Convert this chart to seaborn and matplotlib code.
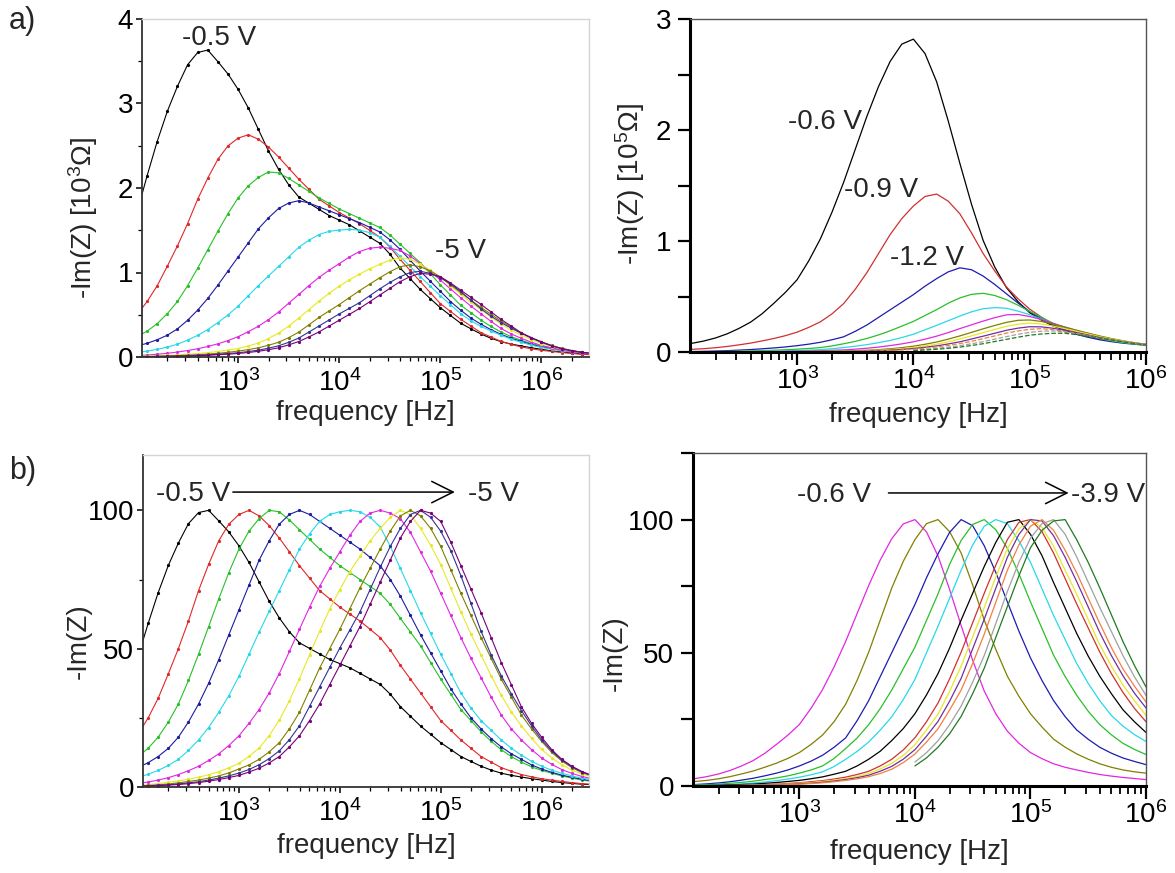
import numpy as np
import seaborn as sns
import matplotlib.pyplot as plt
from matplotlib.ticker import LogLocator, MultipleLocator, NullFormatter

sns.set_theme(style='ticks')
plt.rcParams['font.family'] = ['Liberation Sans', 'DejaVu Sans']
plt.rcParams['mathtext.fontset'] = 'custom'
plt.rcParams['mathtext.rm'] = 'Liberation Sans'
plt.rcParams['mathtext.it'] = 'Liberation Sans:italic'
plt.rcParams['axes.unicode_minus'] = False

nan = np.nan

# frequency grid the curves were read at: 10 points per decade, 10^2 ... 10^6.6 Hz
freq_left = [100, 126, 158, 200, 251, 316, 398, 501, 631, 794,
             1000, 1259, 1585, 1995, 2512, 3162, 3981, 5012, 6310, 7943,
             1e4, 1.259e4, 1.585e4, 1.995e4, 2.512e4, 3.162e4, 3.981e4, 5.012e4, 6.31e4, 7.943e4,
             1e5, 1.259e5, 1.585e5, 1.995e5, 2.512e5, 3.162e5, 3.981e5, 5.012e5, 6.31e5, 7.943e5,
             1e6, 1.259e6, 1.585e6, 1.995e6, 2.512e6, 3.162e6, 3.981e6]
freq_right = freq_left[:41]

# ---- left column : -0.5 V ... -5 V, -Im(Z) normalised to its maximum (%) ----
left_volts = ['-0.5', '-1.0', '-1.5', '-2.0', '-2.5', '-3.0', '-3.5', '-4.0', '-4.5', '-5.0']
left_peaks = [3.64, 2.63, 2.19, 1.85, 1.51, 1.30, 1.18, 1.09, 1.02, 0.99]  # 10^3 Ohm
left_colors = ['#000000', '#e02828', '#28c028', '#1c1ca0', '#28d8e8',
               '#e028e0', '#e8e828', '#808000', '#343494', '#780078']

nl_05 = [47, 59, 70, 80, 88, 95, 99, 99.8, 96, 92, 87, 81, 74, 67, 61, 56, 52, 50, 48, 46,
         44.5, 43, 41, 39, 37, 33.5, 29, 25.5, 22, 19, 16, 13.5, 11, 9.2, 7.5, 6.1, 5, 4.2, 3.6, 3,
         2.5, 2, 1.6, 1.3, 1.0, 0.85, 0.7]
nl_10 = [19, 25, 32, 41, 50, 60, 71, 80.5, 89, 95, 98.5, 100, 98, 94.5, 90, 85, 80, 75.5, 71, 68,
         65, 62.5, 60, 57, 54, 49.5, 44, 39, 34, 29, 24, 20.5, 17, 14, 11, 9, 7, 5.7, 4.5, 3.7,
         3, 2.5, 2, 1.6, 1.2, 1.0, 0.8]
nl_15 = [11, 14, 18, 23.5, 30, 38.5, 48, 58, 68, 77.5, 86, 92.5, 97, 100, 99.5, 96.5, 93, 89.5, 86, 83,
         80, 77.5, 75, 72.5, 70, 66, 61, 56, 51, 45, 39, 33.5, 28, 24, 20, 16.5, 13.5, 11, 9, 7.3,
         6, 5, 4, 3.2, 2.5, 2, 1.6]
nl_20 = [7, 8.8, 11, 14, 18, 23.5, 30, 37.5, 46, 55, 64, 73, 82, 89, 95, 98.5, 100, 98.5, 96, 93.5,
         91, 88.5, 86, 83, 80, 75, 69, 62, 55, 48.5, 42, 35.5, 30, 25, 21, 17.5, 14.5, 12, 10, 8,
         6.5, 5.3, 4.3, 3.5, 2.8, 2.2, 1.8]
nl_25 = [3.5, 4.6, 6, 7.8, 10, 13.2, 17, 21.5, 27, 33, 40, 48, 56, 63.5, 71, 78.5, 86, 91.5, 96, 98.5,
         99.5, 100, 99.5, 97.5, 94, 87, 79, 71, 63, 55.5, 48, 41, 34, 28.5, 24, 20.5, 17, 14, 11.5, 9.3,
         7.5, 6.1, 5, 4, 3.2, 2.6, 2.1]
nl_30 = [1.3, 1.8, 2.5, 3.4, 4.5, 5.9, 7.5, 9.6, 12, 15, 18.5, 23, 28, 34, 41, 49, 57, 65, 72.5, 79,
         85, 91, 96, 99, 100, 99, 97, 92, 85, 78, 70, 62, 54, 46.5, 39.5, 32.5, 26, 21, 17, 13.5,
         10.5, 8.2, 6.3, 4.9, 3.8, 3, 2.4]
nl_35 = [0.6, 0.85, 1.2, 1.7, 2.2, 2.8, 3.5, 4.4, 5.5, 6.9, 8.5, 11, 14, 18.5, 24, 31, 39, 47.5, 56, 64,
         71, 77.5, 83, 88.5, 93, 97, 99.5, 98, 93, 87, 80, 71.5, 63, 55, 47.5, 40, 33, 27, 22, 17.5,
         13.5, 10.5, 8, 6.1, 4.7, 3.6, 2.8]
nl_40 = [0.4, 0.55, 0.8, 1.1, 1.5, 2, 2.5, 3.2, 4, 5.1, 6.5, 8, 10, 12.7, 16, 21, 27, 35, 43, 50,
         57, 64.5, 72, 79, 86, 92.5, 98, 100, 98, 93.5, 87, 78.5, 70, 62, 54, 46.5, 39, 32.5, 26, 21,
         16.5, 12.5, 9.4, 7, 5.2, 4, 3]
nl_45 = [0.3, 0.42, 0.6, 0.8, 1.1, 1.5, 1.9, 2.5, 3.2, 4, 5, 6.3, 8, 10.2, 13, 17, 22, 29, 36, 43,
         50, 56.5, 63, 71, 79, 86.5, 93, 98, 99.5, 97, 92, 85, 76, 66, 56, 47.5, 40, 33.5, 27.5, 22,
         17, 13, 9.7, 7.3, 5.4, 4.1, 3.1]
nl_50 = [0.25, 0.35, 0.5, 0.68, 0.9, 1.2, 1.6, 2.1, 2.7, 3.4, 4.2, 5.4, 6.8, 8.7, 11, 14.5, 18.5, 24, 30, 37,
         44, 51, 58, 66, 74, 82, 90, 96, 100, 99, 96, 88.5, 80, 71.5, 63, 54, 45, 37, 29, 23,
         18, 13.5, 10, 7.5, 5.6, 4.2, 3.2]
norm_left = [nl_05, nl_10, nl_15, nl_20, nl_25, nl_30, nl_35, nl_40, nl_45, nl_50]

# ---- right column : -0.6 V ... -3.9 V ----
right_volts = ['-0.6', '-0.9', '-1.2', '-1.5', '-1.8', '-2.1', '-2.4', '-2.7', '-3.0', '-3.3', '-3.6', '-3.9']
right_peaks = [2.83, 1.43, 0.76, 0.53, 0.40, 0.34, 0.29, 0.26, 0.23, 0.21, 0.19, 0.17]  # 10^5 Ohm
top_right_colors = ['#000000', '#d03030', '#1c1cb0', '#28c028', '#28d8e8', '#e028e0',
                    '#808000', '#e8e828', '#7030a0', '#f08040', '#a0a0a0', '#207a20']
bottom_right_colors = ['#e028e0', '#808000', '#1c1cb0', '#28c028', '#28d8e8', '#000000',
                       '#d03030', '#e8e828', '#7030a0', '#f08040', '#a0a0a0', '#207a20']

nr_06 = [2.2, 2.8, 3.5, 4.5, 5.8, 7.5, 9.5, 12.2, 15.5, 19, 23, 29, 36, 44.5, 54, 64.5, 75, 84.5, 92.5, 98,
         99.6, 95, 86, 73.5, 60, 47, 35.5, 27, 20.5, 16, 12.5, 10.2, 8.3, 7, 6, 5.1, 4.3, 3.7, 3.2, 2.8, 2.4]
nr_09 = [1.3, 1.7, 2.1, 2.7, 3.5, 4.5, 5.6, 7, 8.5, 10.3, 12.5, 15.5, 19, 24, 30.5, 39.5, 50, 62, 74, 84,
         92, 98, 99.5, 95, 87, 75, 62, 51, 41, 33.5, 27, 22, 17.5, 14.5, 12, 10, 8.3, 7, 6, 5.3, 4.8]
nr_12 = [0.4, 0.55, 0.8, 1.15, 1.6, 2.2, 2.9, 3.8, 4.8, 6, 7.5, 9.3, 11.5, 14.5, 18, 24.5, 32, 41, 50, 59,
         68, 78, 87, 95, 99.8, 97.5, 90, 80, 69, 58, 48, 39.5, 32, 26, 21, 17.5, 14.5, 12.3, 10.5, 9.2, 8]
nr_15 = [0.25, 0.35, 0.5, 0.7, 1, 1.35, 1.8, 2.4, 3, 3.8, 4.8, 6, 7.5, 10.3, 14, 18, 23, 29, 36, 44,
         52, 62, 72, 83, 92, 98, 99.8, 96, 89, 79.5, 69, 59, 49, 41, 34, 28, 23, 19.2, 16, 13.7, 11.8]
nr_18 = [0.15, 0.22, 0.3, 0.42, 0.6, 0.8, 1.1, 1.5, 2, 2.6, 3.3, 4.2, 5.3, 7.3, 10, 13, 16.5, 21, 26, 32.5,
         40, 50, 60, 70.5, 81, 90.5, 97.5, 100, 98.5, 92, 84, 74, 64, 55, 46, 38.5, 32, 26.5, 22.5, 19.3, 16.7]
nr_21 = [0.1, 0.14, 0.2, 0.28, 0.4, 0.55, 0.7, 1, 1.3, 1.7, 2.1, 2.7, 3.4, 4.4, 5.5, 7.5, 10, 13, 17, 21.5,
         27, 34, 42, 51.5, 62, 72, 82, 91, 98.5, 99.5, 94, 86, 76, 66.5, 57, 48.5, 41, 34.5, 28.5, 24, 20]
nr_24 = [0.05, 0.07, 0.1, 0.14, 0.2, 0.28, 0.4, 0.55, 0.7, 0.95, 1.2, 1.6, 2, 2.6, 3.3, 4.3, 5.5, 7.5, 10, 13.5,
         18, 24, 31, 40, 50, 61, 72, 82.5, 92, 98.5, 99.5, 95, 87, 77.5, 68, 59, 50, 42, 35, 29, 24]
nr_27 = [0.04, 0.06, 0.08, 0.11, 0.15, 0.21, 0.3, 0.4, 0.55, 0.75, 1, 1.3, 1.7, 2.2, 2.8, 3.6, 4.7, 6.4, 8.5, 11.5,
         15.5, 21, 27, 35.5, 45, 56, 67, 78.5, 89, 96.5, 100, 97, 90, 81, 72, 62.5, 53, 45, 38, 32, 26.5]
nr_30 = [0.03, 0.045, 0.06, 0.09, 0.12, 0.18, 0.25, 0.34, 0.45, 0.6, 0.8, 1.05, 1.4, 1.85, 2.4, 3.1, 4, 5.5, 7.3, 10,
         13.5, 18.5, 24, 31.5, 40, 51, 62, 73.5, 85, 93.5, 99, 98.5, 93, 85, 76, 66.5, 57, 48.5, 41, 34.5, 29]
nr_33 = [0.03, 0.04, 0.05, 0.07, 0.1, 0.14, 0.2, 0.28, 0.4, 0.53, 0.7, 0.92, 1.2, 1.6, 2.1, 2.7, 3.5, 4.7, 6.3, 8.8,
         12, 16.5, 21.5, 28.5, 36, 46, 57, 69, 81, 90.5, 97.5, 100, 96, 88.5, 80, 70.5, 61, 52, 44, 37.5, 31.5]
nr_36 = [nan] * 20 + [9, 12.5, 17, 23, 30, 39, 49, 61, 73, 84,
                      93, 98.5, 100, 94.5, 86, 76.5, 67, 58, 49, 41, 34]
nr_39 = [nan] * 20 + [7.5, 10.5, 14.5, 19.5, 26, 34.5, 44, 55.5, 67, 78.5,
                      89, 95.5, 99, 99.5, 92, 83.5, 74, 64, 54, 45, 37]
norm_right = [nr_06, nr_09, nr_12, nr_15, nr_18, nr_21, nr_24, nr_27, nr_30, nr_33, nr_36, nr_39]
dashed_right = ['-3.3', '-3.6', '-3.9']

W, H = 1175, 873
fig = plt.figure(figsize=(W / 100, H / 100), dpi=100)


def px_axes(left, top, right, bottom):
    return fig.add_axes([left / W, 1 - bottom / H, (right - left) / W, (bottom - top) / H])


ax_tl = px_axes(142, 19, 589, 357)
ax_tr = px_axes(690, 19, 1146, 352)
ax_bl = px_axes(143, 455, 589, 787)
ax_br = px_axes(693, 453, 1146, 786)

FS = 20


def style_axes(ax, heavy):
    ax.set_xscale('log')
    ax.xaxis.set_major_locator(LogLocator(base=10, numticks=12))
    ax.xaxis.set_minor_locator(LogLocator(base=10, subs=np.arange(2, 10), numticks=12))
    ax.xaxis.set_minor_formatter(NullFormatter())
    ax.grid(False)
    if heavy:
        for s in ['left', 'bottom']:
            ax.spines[s].set_linewidth(2.2)
            ax.spines[s].set_color('black')
        for s in ['top', 'right']:
            ax.spines[s].set_linewidth(1.0)
            ax.spines[s].set_color('#555555')
        ax.tick_params(which='both', direction='out', labelsize=FS, colors='black')
        ax.tick_params(axis='x', which='major', length=9, width=1.6, pad=2)
        ax.tick_params(axis='x', which='minor', length=5.5, width=1.3)
        ax.tick_params(axis='y', which='both', length=8.5, width=1.6, pad=5)
    else:
        for s in ['left', 'bottom']:
            ax.spines[s].set_linewidth(1.3)
            ax.spines[s].set_color('#333333')
        for s in ['top', 'right']:
            ax.spines[s].set_linewidth(1.0)
            ax.spines[s].set_color('#d4d4d4')
        ax.tick_params(which='both', direction='out', labelsize=FS, colors='black')
        ax.tick_params(which='major', length=4.5, width=1.1)
        ax.tick_params(which='minor', length=3, width=0.9)
        ax.tick_params(axis='x', which='major', pad=4)
        ax.tick_params(axis='y', which='major', pad=2)


# ---- a) left: absolute values ----
for volts, peak, norm, c in zip(left_volts, left_peaks, norm_left, left_colors):
    vals = np.array(norm) * peak / 100
    sns.lineplot(x=freq_left, y=vals, ax=ax_tl, color=c, lw=0.8, marker='o',
                 markersize=2.3, markeredgewidth=0)
style_axes(ax_tl, heavy=False)
ax_tl.set_xlim(112, 2.95e6)
ax_tl.set_ylim(0, 4)
ax_tl.yaxis.set_major_locator(MultipleLocator(1))
ax_tl.yaxis.set_minor_locator(MultipleLocator(0.5))
ax_tl.set_xlabel('frequency [Hz]', fontsize=FS)
ax_tl.set_ylabel('-Im(Z) [10$^3$Ω]', fontsize=FS)
ax_tl.xaxis.set_label_coords(0.5, -0.127)
ax_tl.yaxis.set_label_coords(-0.094, 0.41)
ax_tl.text(641, 3.77, '-0.5 V', fontsize=FS, ha='center', va='center')
ax_tl.text(1.57e5, 1.25, '-5 V', fontsize=FS, ha='center', va='center')

# ---- a) right: absolute values ----
for volts, peak, norm, c in zip(right_volts, right_peaks, norm_right, top_right_colors):
    vals = np.array(norm) * peak / 100
    ls = '--' if volts in dashed_right else '-'
    sns.lineplot(x=freq_right, y=vals, ax=ax_tr, color=c, lw=0.9, linestyle=ls)
style_axes(ax_tr, heavy=True)
ax_tr.set_xlim(120, 1e6)
ax_tr.set_ylim(0, 3)
ax_tr.yaxis.set_major_locator(MultipleLocator(1))
ax_tr.yaxis.set_minor_locator(MultipleLocator(0.5))
ax_tr.set_xlabel('frequency [Hz]', fontsize=FS)
ax_tr.set_ylabel('-Im(Z) [10$^5$Ω]', fontsize=FS)
ax_tr.xaxis.set_label_coords(0.5, -0.15)
ax_tr.yaxis.set_label_coords(-0.094, 0.505)
ax_tr.text(1750, 2.07, '-0.6 V', fontsize=FS, ha='center', va='center')
ax_tr.text(5300, 1.46, '-0.9 V', fontsize=FS, ha='center', va='center')
ax_tr.text(1.3e4, 0.85, '-1.2 V', fontsize=FS, ha='center', va='center')

# ---- b) left: normalised ----
for volts, norm, c in zip(left_volts, norm_left, left_colors):
    vals = 100 * np.array(norm) / max(norm)
    sns.lineplot(x=freq_left, y=vals, ax=ax_bl, color=c, lw=0.8, marker='o',
                 markersize=2.3, markeredgewidth=0)
style_axes(ax_bl, heavy=False)
ax_bl.set_xlim(112, 2.95e6)
ax_bl.set_ylim(0, 120)
ax_bl.yaxis.set_major_locator(MultipleLocator(50))
ax_bl.yaxis.set_minor_locator(MultipleLocator(25))
ax_bl.set_xlabel('frequency [Hz]', fontsize=FS)
ax_bl.set_ylabel('-Im(Z)', fontsize=FS)
ax_bl.xaxis.set_label_coords(0.5, -0.139)
ax_bl.yaxis.set_label_coords(-0.114, 0.44)
ax_bl.text(815, 106, '-0.5 V', fontsize=FS, ha='right', va='center')
ax_bl.text(1.87e5, 106, '-5 V', fontsize=FS, ha='left', va='center')
ax_bl.annotate('', xy=(1.38e5, 106.6), xytext=(871, 106.6),
               arrowprops=dict(arrowstyle='->, head_length=0.7, head_width=0.35',
                               lw=1.1, color='black', mutation_scale=22,
                               shrinkA=0, shrinkB=0))

# ---- b) right: normalised ----
for volts, norm, c in zip(right_volts, norm_right, bottom_right_colors):
    vals = 100 * np.array(norm) / np.nanmax(norm)
    sns.lineplot(x=freq_right, y=vals, ax=ax_br, color=c, lw=0.9)
style_axes(ax_br, heavy=True)
ax_br.set_xlim(120, 1e6)
ax_br.set_ylim(0, 125)
ax_br.yaxis.set_major_locator(MultipleLocator(50))
ax_br.yaxis.set_minor_locator(MultipleLocator(25))
ax_br.set_xlabel('frequency [Hz]', fontsize=FS)
ax_br.set_ylabel('-Im(Z)', fontsize=FS)
ax_br.xaxis.set_label_coords(0.5, -0.16)
ax_br.yaxis.set_label_coords(-0.143, 0.40)
ax_br.text(4200, 109.4, '-0.6 V', fontsize=FS, ha='right', va='center')
ax_br.text(2.24e5, 109.4, '-3.9 V', fontsize=FS, ha='left', va='center')
ax_br.annotate('', xy=(2.14e5, 110), xytext=(5900, 110),
               arrowprops=dict(arrowstyle='->, head_length=0.7, head_width=0.35',
                               lw=1.1, color='black', mutation_scale=22,
                               shrinkA=0, shrinkB=0))

fig.text(9 / W, 1 - 6 / H, 'a)', fontsize=22, ha='left', va='top')
fig.text(9 / W, 1 - 456 / H, 'b)', fontsize=22, ha='left', va='top')

fig.savefig('out.png', dpi=100)
